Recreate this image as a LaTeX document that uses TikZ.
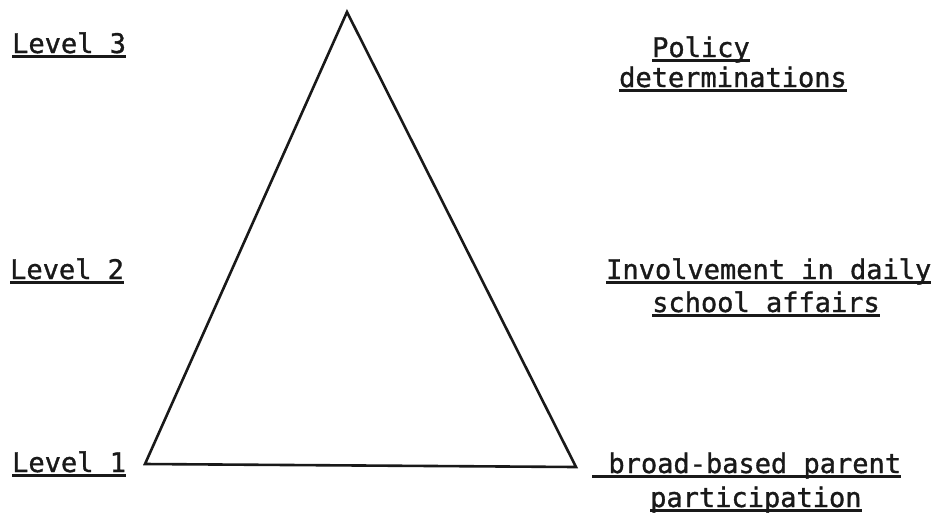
\documentclass[tikz,border=0pt]{standalone}
\usepackage{fontspec}
\setmonofont[FakeBold=1.2]{DejaVu Sans Mono}
\newcommand\ulx[1]{\setbox0\hbox{#1}\rlap{\rule[-0.17em]{\wd0}{0.09em}}\box0}
\begin{document}
\begin{tikzpicture}[x=1pt,y=-1pt,
  lbl/.style={anchor=base west,inner sep=0pt,font=\ttfamily\fontsize{27}{27}\selectfont,text=black!90},
  edge/.style={line width=2.6pt,line join=miter,draw=black!90}]
\useasboundingbox (0,0) rectangle (931,515);
\coordinate (apex) at (347,12);
\coordinate (bl) at (145,464);
\coordinate (br) at (576,467);
\draw[edge] (apex) -- (bl) -- (br) -- cycle;
\node[lbl] (l3) at (12,53) {\ulx{Level 3}};
\node[lbl] (l2) at (10,279) {\ulx{Level 2}};
\node[lbl] (l1) at (12,472) {\ulx{Level 1}};
\node[lbl] (p1) at (652,57) {\ulx{Policy}};
\node[lbl] (p2) at (619,87) {\ulx{determinations}};
\node[lbl] (i1) at (606,279) {\ulx{Involvement in daily}};
\node[lbl] (i2) at (652,312) {\ulx{school affairs}};
\node[lbl] (b1) at (592,473) {\ulx{\ broad-based parent}};
\node[lbl] (b2) at (650,507) {\ulx{participation}};
\end{tikzpicture}
\end{document}
